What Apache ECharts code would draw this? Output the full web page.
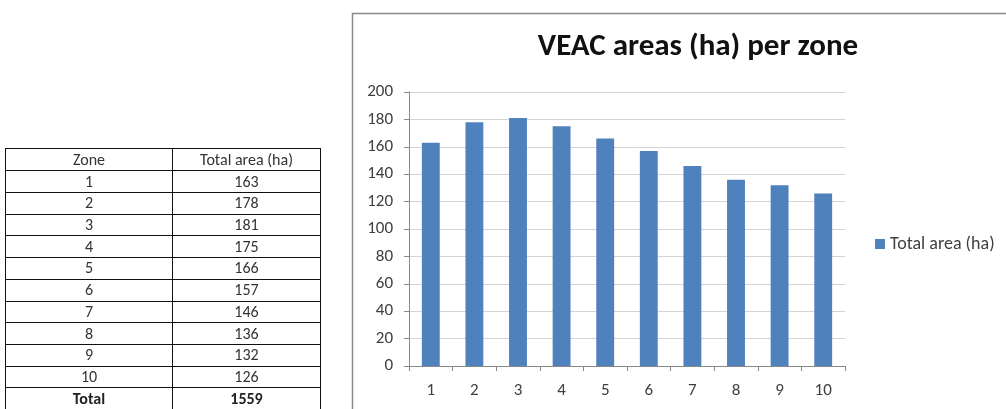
<!DOCTYPE html>
<html>
<head>
<meta charset="utf-8">
<script src="https://cdn.jsdelivr.net/npm/echarts@6/dist/echarts.min.js"></script>
<style>
  html, body { margin: 0; padding: 0; background: #fff; overflow: hidden; }
  #chart { position: absolute; left: 0; top: 0; width: 1006px; height: 409px; }
  #tbl {
    position: absolute; left: 5px; top: 148px;
    border-collapse: collapse; table-layout: fixed;
    font-family: Carlito, "Liberation Sans", Arial, sans-serif;
    font-size: 16px; color: #333;
  }
  #tbl td { border: 1px solid #111; padding: 0; text-align: center; line-height: 16px; }
  #tbl tr { height: 21.7px; }
  #tbl tr.head { height: 22.4px; }
  #tbl tr.total td { font-weight: bold; color: #222; }
</style>
</head>
<body>
<div id="chart"></div>
<table id="tbl">
  <colgroup><col style="width:167px"><col style="width:148px"></colgroup>
  <tbody id="tbody"></tbody>
</table>
<script>
// Zone areas in hectares
const zones = ['1', '2', '3', '4', '5', '6', '7', '8', '9', '10'];
const totalArea = [163, 178, 181, 175, 166, 157, 146, 136, 132, 126];
const tableHeader = ['Zone', 'Total area (ha)'];
const totalLabel = 'Total';
const totalValue = 1559;
const seriesName = 'Total area (ha)';
const chartTitle = 'VEAC areas (ha) per zone';
const yTicks = { min: 0, max: 200, interval: 20 };

// Summary table
const tbody = document.getElementById('tbody');
function addRow(cells, cls) {
  const tr = document.createElement('tr');
  if (cls) tr.className = cls;
  cells.forEach(c => {
    const td = document.createElement('td');
    td.textContent = c;
    tr.appendChild(td);
  });
  tbody.appendChild(tr);
}
addRow(tableHeader, 'head');
zones.forEach((z, i) => addRow([z, totalArea[i]]));
addRow([totalLabel, totalValue], 'total');

// Bar chart
const font = 'Carlito, "Liberation Sans", Arial, sans-serif';
const chart = echarts.init(document.getElementById('chart'), null, { renderer: 'canvas' });
chart.setOption({
  animation: false,
  backgroundColor: 'transparent',
  textStyle: { fontFamily: font },
  graphic: [{
    type: 'rect',
    shape: { x: 352.5, y: 13.5, width: 800, height: 600 },
    style: { fill: '#fff', stroke: '#888', lineWidth: 1.5 },
    z: -10
  }],
  title: {
    text: chartTitle,
    left: 693, top: 27, textAlign: 'center',
    textStyle: { fontFamily: font, fontSize: 31, fontWeight: 'bold', color: '#111' }
  },
  legend: {
    data: [seriesName],
    left: 870, top: 230,
    icon: 'rect', itemWidth: 10, itemHeight: 10,
    textStyle: { fontFamily: font, fontSize: 18, color: '#404040' }
  },
  grid: { left: 409, top: 92, width: 436, height: 274 },
  xAxis: {
    type: 'category',
    data: zones,
    axisLine: { lineStyle: { color: '#888', width: 1 } },
    axisTick: { show: true, length: 5, lineStyle: { color: '#888' } },
    axisLabel: { margin: 16, fontSize: 17, color: '#404040', fontFamily: font }
  },
  yAxis: {
    type: 'value',
    min: yTicks.min, max: yTicks.max, interval: yTicks.interval,
    axisLine: { show: true, lineStyle: { color: '#888', width: 1 } },
    axisTick: { show: true, length: 5, lineStyle: { color: '#888' } },
    axisLabel: { margin: 16, fontSize: 17, color: '#404040', fontFamily: font },
    splitLine: { lineStyle: { color: '#d4d4d4', width: 1 } }
  },
  series: [{
    name: seriesName,
    type: 'bar',
    data: totalArea,
    barWidth: '41%',
    itemStyle: { color: '#4f81bd' }
  }]
});
</script>
</body>
</html>
